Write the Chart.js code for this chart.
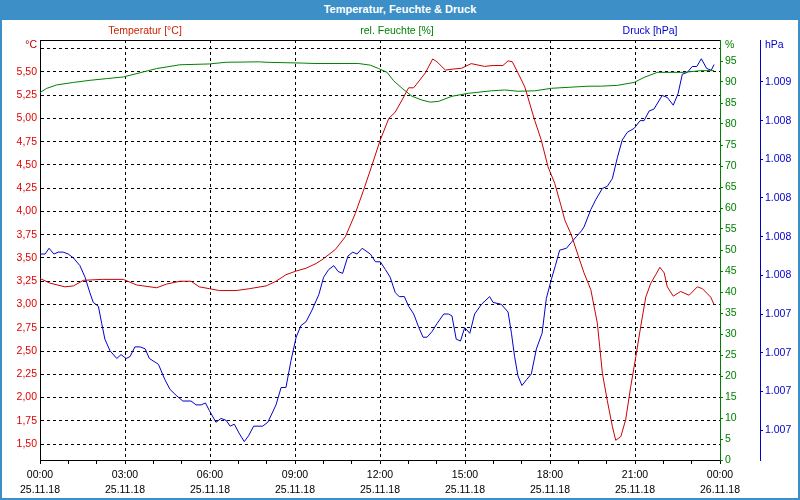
<!DOCTYPE html>
<html>
<head>
<meta charset="utf-8">
<script src="https://cdn.jsdelivr.net/npm/chart.js@4.4.1/dist/chart.umd.min.js"></script>
<style>
  html, body { margin: 0; padding: 0; background: #fff; }
  #frame { position: relative; width: 800px; height: 500px; overflow: hidden; font-family: 'Liberation Sans', Arial, sans-serif; }
  #head { position: absolute; left: 0; top: 0; width: 800px; height: 20px; background: #3d8fc8; color: #fff; font-weight: bold; font-size: 11px; line-height: 19px; text-align: center; }
  #edge { position: absolute; left: 0; top: 20px; width: 796px; height: 478px; border: 2px solid #3d8fc8; border-top: 0; pointer-events: none; }
  .leg { position: absolute; top: 23px; font-size: 10.5px; line-height: 14px; transform: translateX(-50%); white-space: nowrap; }
  #wrap { position: absolute; left: 0; top: 20px; width: 800px; height: 480px; }
</style>
</head>
<body>
<div id="frame">
  <div id="head">Temperatur, Feuchte &amp; Druck</div>
  <div id="wrap"><canvas id="wetterChart" width="800" height="480"></canvas></div>
  <span class="leg" style="left:145px;color:#cc2200">Temperatur [°C]</span>
  <span class="leg" style="left:397px;color:#008000">rel. Feuchte [%]</span>
  <span class="leg" style="left:650px;color:#0000cc">Druck [hPa]</span>
  <div id="edge"></div>
</div>
<script>
// Stunden ab 25.11.18 00:00
const tempHours = [0, 0.35, 0.88, 1.18, 1.53, 2.2, 2.94, 3.41, 4.12, 4.47,
  4.94, 5.33, 5.62, 5.98, 6.33, 6.92, 7.39, 7.98, 8.33, 8.68,
  9.04, 9.39, 9.74, 9.95, 10.42, 10.78, 11.13, 11.42, 11.72, 12.01,
  12.31, 12.54, 12.78, 13.01, 13.19, 13.6, 13.86, 14.01, 14.31, 14.54,
  14.87, 15.22, 15.69, 15.99, 16.34, 16.52, 16.67, 16.87, 17.11, 17.46,
  17.69, 17.93, 18.17, 18.4, 18.52, 18.75, 18.99, 19.2, 19.44, 19.67,
  19.85, 20.02, 20.2, 20.32, 20.5, 20.67, 20.85, 21.03, 21.2, 21.38,
  21.56, 21.73, 21.88, 22.03, 22.14, 22.35, 22.61, 22.91, 23.2, 23.38,
  23.67, 23.79];
const tempValues = [3.28, 3.23, 3.19, 3.20, 3.26, 3.27, 3.27, 3.21, 3.18, 3.22,
  3.25, 3.25, 3.19, 3.17, 3.15, 3.15, 3.17, 3.20, 3.25, 3.32,
  3.36, 3.39, 3.44, 3.48, 3.59, 3.73, 3.98, 4.23, 4.50, 4.77,
  5.00, 5.07, 5.20, 5.33, 5.33, 5.49, 5.64, 5.61, 5.52, 5.53,
  5.54, 5.59, 5.56, 5.57, 5.57, 5.62, 5.61, 5.49, 5.34, 4.98,
  4.77, 4.48, 4.30, 4.05, 3.91, 3.75, 3.53, 3.34, 3.16, 2.80,
  2.26, 1.97, 1.69, 1.54, 1.58, 1.76, 2.12, 2.44, 2.76, 3.08,
  3.23, 3.32, 3.40, 3.34, 3.19, 3.09, 3.14, 3.10, 3.19, 3.17,
  3.08, 3.00];

const humHours = [0, 0.24, 0.59, 1.18, 1.76, 2.35, 2.94, 3.53, 4.12, 4.94,
  5.98, 6.57, 7.74, 7.98, 9.27, 9.74, 11.25, 11.66, 11.95, 12.25,
  12.48, 12.78, 13.13, 13.48, 13.78, 14.07, 14.54, 15.11, 15.93, 16.4,
  16.87, 17.46, 18.05, 19.34, 19.79, 20.38, 20.97, 21.32, 21.79, 22.73,
  23.32, 23.79];
const humValues = [87.5, 88.5, 89.3, 89.9, 90.4, 90.8, 91.2, 92.2, 93.2, 94.1,
  94.3, 94.7, 94.8, 94.7, 94.5, 94.4, 94.4, 94.0, 93.2, 92.3,
  90.3, 88.5, 86.6, 85.7, 85.2, 85.4, 86.6, 87.3, 87.9, 88.1,
  87.8, 87.9, 88.5, 89.0, 89.0, 89.2, 89.9, 91.1, 92.3, 92.3,
  92.7, 92.7];

const presHours = [0, 0.18, 0.32, 0.49, 0.65, 0.82, 1.0, 1.18, 1.41, 1.59,
  1.76, 1.88, 2.06, 2.18, 2.29, 2.47, 2.71, 2.86, 3.04, 3.18,
  3.35, 3.53, 3.71, 3.86, 4.18, 4.41, 4.59, 4.8, 5.04, 5.33,
  5.51, 5.69, 5.84, 5.98, 6.21, 6.39, 6.57, 6.71, 6.86, 7.04,
  7.21, 7.36, 7.54, 7.86, 8.04, 8.33, 8.51, 8.68, 8.86, 9.04,
  9.21, 9.39, 9.6, 9.84, 10.01, 10.19, 10.37, 10.52, 10.68, 10.87,
  11.04, 11.19, 11.37, 11.66, 11.84, 12.01, 12.19, 12.36, 12.54, 12.68,
  12.86, 13.01, 13.19, 13.37, 13.52, 13.66, 13.84, 14.01, 14.25, 14.42,
  14.54, 14.69, 14.84, 14.99, 15.17, 15.34, 15.58, 15.87, 15.99, 16.28,
  16.52, 16.64, 16.75, 16.87, 17.01, 17.17, 17.34, 17.52, 17.72, 17.87,
  18.05, 18.19, 18.34, 18.58, 18.75, 18.93, 19.11, 19.2, 19.44, 19.61,
  19.85, 20.02, 20.2, 20.38, 20.55, 20.73, 20.97, 21.18, 21.32, 21.5,
  21.67, 21.96, 22.14, 22.35, 22.52, 22.67, 22.85, 23.02, 23.18, 23.34,
  23.53, 23.69, 23.79];
const presValues = [1007.71, 1007.71, 1007.74, 1007.71, 1007.72, 1007.72, 1007.71, 1007.69, 1007.65, 1007.59,
  1007.51, 1007.46, 1007.44, 1007.35, 1007.27, 1007.21, 1007.17, 1007.19, 1007.17, 1007.18,
  1007.23, 1007.23, 1007.22, 1007.17, 1007.14, 1007.06, 1007.01, 1006.98, 1006.95, 1006.95,
  1006.93, 1006.93, 1006.94, 1006.90, 1006.84, 1006.86, 1006.85, 1006.82, 1006.83, 1006.78,
  1006.74, 1006.77, 1006.82, 1006.82, 1006.84, 1006.93, 1007.02, 1007.02, 1007.16, 1007.28,
  1007.34, 1007.36, 1007.42, 1007.50, 1007.59, 1007.63, 1007.65, 1007.62, 1007.61, 1007.70,
  1007.72, 1007.71, 1007.74, 1007.71, 1007.67, 1007.67, 1007.63, 1007.59, 1007.51, 1007.49,
  1007.49, 1007.44, 1007.40, 1007.33, 1007.28, 1007.28, 1007.31, 1007.35, 1007.40, 1007.40,
  1007.39, 1007.27, 1007.26, 1007.33, 1007.30, 1007.40, 1007.45, 1007.49, 1007.46, 1007.45,
  1007.41, 1007.30, 1007.18, 1007.08, 1007.03, 1007.06, 1007.09, 1007.22, 1007.30, 1007.48,
  1007.58, 1007.65, 1007.73, 1007.74, 1007.77, 1007.80, 1007.83, 1007.85, 1007.94, 1007.99,
  1008.05, 1008.06, 1008.10, 1008.21, 1008.30, 1008.34, 1008.36, 1008.40, 1008.40, 1008.45,
  1008.46, 1008.53, 1008.52, 1008.48, 1008.54, 1008.64, 1008.65, 1008.68, 1008.68, 1008.72,
  1008.67, 1008.66, 1008.69];

// Achsen
const hourTicks = [0, 1, 2, 3, 4, 5, 6, 7, 8, 9, 10, 11, 12, 13, 14, 15, 16, 17, 18, 19, 20, 21, 22, 23, 24];
const timeLabels = ['00:00', '03:00', '06:00', '09:00', '12:00', '15:00', '18:00', '21:00', '00:00'];
const dateLabels = ['25.11.18', '25.11.18', '25.11.18', '25.11.18', '25.11.18', '25.11.18', '25.11.18', '25.11.18', '26.11.18'];
const tempTicks = [1.5, 1.75, 2.0, 2.25, 2.5, 2.75, 3.0, 3.25, 3.5, 3.75, 4.0, 4.25, 4.5, 4.75, 5.0, 5.25, 5.5, 5.75];
const humTicks = [0, 5, 10, 15, 20, 25, 30, 35, 40, 45, 50, 55, 60, 65, 70, 75, 80, 85, 90, 95];
const presTicks = [1006.8, 1007.0, 1007.2, 1007.4, 1007.6, 1007.8, 1008.0, 1008.2, 1008.4, 1008.6];

const toPoints = (xs, ys) => xs.map((h, i) => ({ x: h, y: ys[i] }));
const setTicks = list => axis => { axis.ticks = list.map(v => ({ value: v })); };

Chart.defaults.font.family = "'Liberation Sans', Arial, sans-serif";
Chart.defaults.font.size = 10.5;

const unitLabels = {
  id: 'unitLabels',
  afterDraw(chart) {
    const { ctx, chartArea, scales } = chart;
    ctx.save();
    ctx.strokeStyle = '#000';
    ctx.lineWidth = 1;
    ctx.beginPath();
    ctx.moveTo(chartArea.left, chartArea.top + 0.5);
    ctx.lineTo(chartArea.right, chartArea.top + 0.5);
    ctx.stroke();
    ctx.font = "10.5px 'Liberation Sans', Arial, sans-serif";
    ctx.textBaseline = 'middle';
    ctx.textAlign = 'right';
    ctx.fillStyle = '#c00000';
    ctx.fillText('°C', scales.yT.right - 3, chartArea.top + 5);
    ctx.textAlign = 'left';
    ctx.fillStyle = '#008000';
    ctx.fillText('%', scales.yH.left + 5, chartArea.top + 5);
    ctx.fillStyle = '#0000cc';
    ctx.fillText('hPa', scales.yP.left + 5, chartArea.top + 5);
    ctx.restore();
  }
};

const ctx = document.getElementById('wetterChart').getContext('2d');
const wetterChart = new Chart(ctx, {
  type: 'line',
  data: {
    datasets: [
      {
        label: 'Temperatur [°C]',
        data: toPoints(tempHours, tempValues),
        borderColor: '#cc0000',
        yAxisID: 'yT'
      },
      {
        label: 'rel. Feuchte [%]',
        data: toPoints(humHours, humValues),
        borderColor: '#008000',
        yAxisID: 'yH'
      },
      {
        label: 'Druck [hPa]',
        data: toPoints(presHours, presValues),
        borderColor: '#0000cc',
        yAxisID: 'yP'
      }
    ]
  },
  options: {
    responsive: false,
    animation: false,
    devicePixelRatio: 1,
    layout: { padding: { top: 20, left: 0, right: 0, bottom: 0 } },
    elements: {
      line: { borderWidth: 1, tension: 0, fill: false },
      point: { radius: 0 }
    },
    scales: {
      x: {
        type: 'linear',
        position: 'bottom',
        min: 0,
        max: 24,
        afterBuildTicks: setTicks(hourTicks),
        afterFit: s => { s.height = 40; },
        grid: {
          color: c => (c.tick && c.tick.value % 3 === 0 && c.tick.value > 0 && c.tick.value < 24) ? '#000' : 'rgba(0,0,0,0)',
          tickColor: '#000',
          tickLength: 4
        },
        border: { color: '#000', dash: [3, 3] },
        ticks: {
          autoSkip: false,
          maxRotation: 0,
          padding: 3,
          color: '#000',
          font: { lineHeight: 1.45 },
          callback: v => (v % 3 === 0) ? [timeLabels[v / 3], dateLabels[v / 3]] : ''
        }
      },
      yT: {
        type: 'linear',
        position: 'left',
        min: 1.328,
        max: 5.844,
        afterBuildTicks: setTicks(tempTicks),
        afterFit: s => { s.width = 40; },
        grid: { color: '#000', drawTicks: false },
        border: { color: '#000', dash: [3, 3] },
        ticks: {
          color: '#e00000',
          padding: 3,
          callback: v => v > 5.7 ? '' : v.toFixed(2).replace('.', ',')
        }
      },
      yH: {
        type: 'linear',
        position: 'right',
        weight: 0,
        min: 0,
        max: 100,
        afterBuildTicks: setTicks(humTicks),
        afterFit: s => { s.width = 40; },
        grid: { drawOnChartArea: false, color: '#008000', tickLength: 3 },
        border: { color: '#008000' },
        ticks: { color: '#008000', padding: 2 }
      },
      yP: {
        type: 'linear',
        position: 'right',
        weight: 1,
        min: 1006.645,
        max: 1008.817,
        afterBuildTicks: setTicks(presTicks),
        afterFit: s => { s.width = 40; },
        grid: { drawOnChartArea: false, color: '#0000cc', tickLength: 3 },
        border: { color: '#0000cc' },
        ticks: {
          color: '#0000cc',
          padding: 2,
          callback: v => String(Math.round(v)).replace(/(\d)(\d{3})$/, '$1.$2')
        }
      }
    },
    plugins: {
      legend: { display: false },
      tooltip: { enabled: false }
    }
  },
  plugins: [unitLabels]
});
</script>
</body>
</html>
